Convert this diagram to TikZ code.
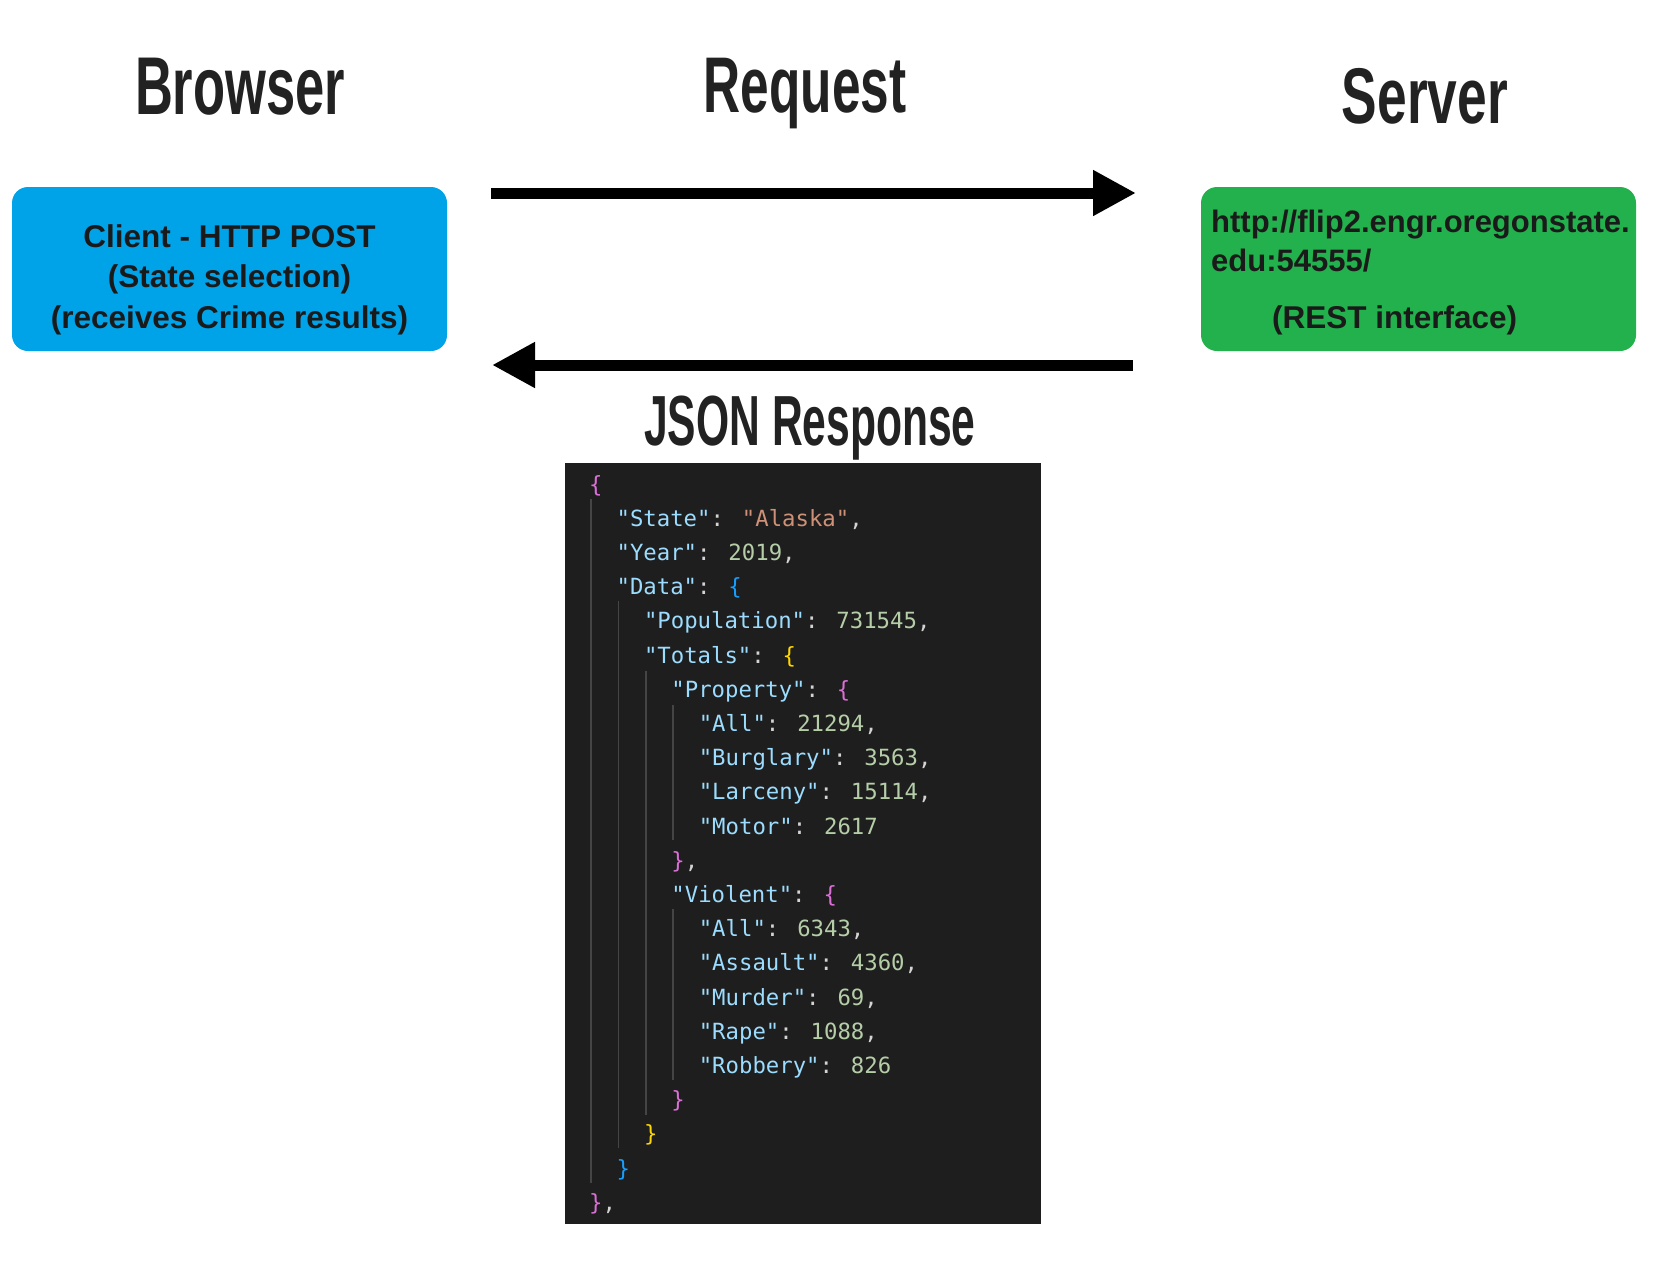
\documentclass[tikz,border=0pt]{standalone}
\usepackage{fontspec}
\usetikzlibrary{arrows.meta}
\newfontfamily\lsans{Liberation Sans}
\newfontfamily\codefont{DejaVu Sans Mono}
\definecolor{cbg}{HTML}{1E1E1E}
\definecolor{ckey}{HTML}{9CDCFE}
\definecolor{cstr}{HTML}{CE9178}
\definecolor{cnum}{HTML}{B5CEA8}
\definecolor{cpun}{HTML}{D4D4D4}
\definecolor{cbra}{HTML}{DA70D6}
\definecolor{cbrb}{HTML}{179FFF}
\definecolor{cbrc}{HTML}{FFD700}
\definecolor{cguide}{HTML}{454545}
\definecolor{cblue}{HTML}{00A2E8}
\definecolor{cgreen}{HTML}{22B14C}
\definecolor{ctext}{HTML}{1A1A1A}
\definecolor{ctitle}{HTML}{222222}
\newcommand\jk[1]{\textcolor{ckey}{"#1"}\textcolor{cpun}{:}\space}
\newcommand\jn[1]{\textcolor{cnum}{#1}}
\newcommand\jc{\textcolor{cpun}{,}}
\newcommand\js[1]{\textcolor{cstr}{"#1"}}
\newcommand\jb[2]{\textcolor{#1}{#2}}
\newcommand\ttl[3]{\fontsize{#1}{#1}\selectfont\scalebox{#2}[1]{#3}}
\tikzset{
  title/.style={anchor=base, inner sep=0, text=ctitle, font=\lsans\bfseries},
  boxshape/.style={rounded corners=16pt, minimum width=435pt, minimum height=164pt, inner sep=0},
  boxtext/.style={inner sep=0, text=ctext, font=\lsans\bfseries\fontsize{31.5}{41}\selectfont},
  urltext/.style={inner sep=0, text=ctext, font=\lsans\bfseries\fontsize{31}{41}\selectfont},
  codeline/.style={anchor=base west, inner sep=0, font=\codefont\fontsize{22.3}{34}\selectfont},
  guide/.style={draw=cguide, line width=1.6pt},
  bigarrow/.style={line width=11pt, -{Triangle[length=43pt,width=43pt]}},
}
\begin{document}
\begin{tikzpicture}[x=1pt,y=-1pt]
\useasboundingbox (0,0) rectangle (1677,1267);
% titles
\node[title] (tbrowser) at (240,114) {\ttl{82}{0.64}{Browser}};
\node[title] (trequest) at (805,112) {\ttl{79}{0.65}{Request}};
\node[title] (tserver) at (1425,123) {\ttl{79}{0.675}{Server}};
\node[title] (tjson) at (810,445) {\ttl{71}{0.60}{JSON Response}};
% boxes
\node[boxshape, fill=cblue] (browser) at (229.5,269) {};
\node[boxshape, fill=cgreen] (server) at (1418.5,269) {};
\node[boxtext, anchor=base] (bl1) at (229.5,247) {Client - HTTP POST};
\node[boxtext, anchor=base] (bl2) at (229.5,287) {(State selection)};
\node[boxtext, anchor=base] (bl3) at (229.5,328) {(receives Crime results)};
\node[urltext, anchor=base west] (sl1) at (1211,232) {http://flip2.engr.oregonstate.};
\node[urltext, anchor=base west] (sl2) at (1211,271) {edu:54555/};
\node[boxtext, anchor=base west] (sl3) at (1272,328) {(REST interface)};
% arrows
\coordinate (reqs) at (491,193);
\coordinate (reqe) at (1136,193);
\coordinate (ress) at (1133,365);
\coordinate (rese) at (492,365);
\draw[bigarrow] (reqs) -- (reqe);
\draw[bigarrow] (ress) -- (rese);
% code block
\node[fill=cbg, anchor=north west, inner sep=0, minimum width=476pt, minimum height=761pt] (code) at (565,463) {};
\draw[guide] (591,499) -- (591,1183);
\draw[guide] (618.4,601) -- (618.4,1148);
\draw[guide] (645.8,671) -- (645.8,1115);
\draw[guide] (673.2,705) -- (673.2,840);
\draw[guide] (673.2,909) -- (673.2,1080);
\node[codeline] (l0) at (589,492) {\jb{cbra}{\{}};
\node[codeline] (l1) at (616.4,526.2) {\jk{State}\js{Alaska}\jc};
\node[codeline] (l2) at (616.4,560.4) {\jk{Year}\jn{2019}\jc};
\node[codeline] (l3) at (616.4,594.6) {\jk{Data}\jb{cbrb}{\{}};
\node[codeline] (l4) at (643.8,628.8) {\jk{Population}\jn{731545}\jc};
\node[codeline] (l5) at (643.8,663) {\jk{Totals}\jb{cbrc}{\{}};
\node[codeline] (l6) at (671.2,697.2) {\jk{Property}\jb{cbra}{\{}};
\node[codeline] (l7) at (698.6,731.4) {\jk{All}\jn{21294}\jc};
\node[codeline] (l8) at (698.6,765.6) {\jk{Burglary}\jn{3563}\jc};
\node[codeline] (l9) at (698.6,799.8) {\jk{Larceny}\jn{15114}\jc};
\node[codeline] (l10) at (698.6,834) {\jk{Motor}\jn{2617}};
\node[codeline] (l11) at (671.2,868.2) {\jb{cbra}{\}}\jc};
\node[codeline] (l12) at (671.2,902.4) {\jk{Violent}\jb{cbra}{\{}};
\node[codeline] (l13) at (698.6,936.6) {\jk{All}\jn{6343}\jc};
\node[codeline] (l14) at (698.6,970.8) {\jk{Assault}\jn{4360}\jc};
\node[codeline] (l15) at (698.6,1005) {\jk{Murder}\jn{69}\jc};
\node[codeline] (l16) at (698.6,1039.2) {\jk{Rape}\jn{1088}\jc};
\node[codeline] (l17) at (698.6,1073.4) {\jk{Robbery}\jn{826}};
\node[codeline] (l18) at (671.2,1107.6) {\jb{cbra}{\}}};
\node[codeline] (l19) at (643.8,1141.8) {\jb{cbrc}{\}}};
\node[codeline] (l20) at (616.4,1176) {\jb{cbrb}{\}}};
\node[codeline] (l21) at (589,1210.2) {\jb{cbra}{\}}\jc};
\end{tikzpicture}
\end{document}
